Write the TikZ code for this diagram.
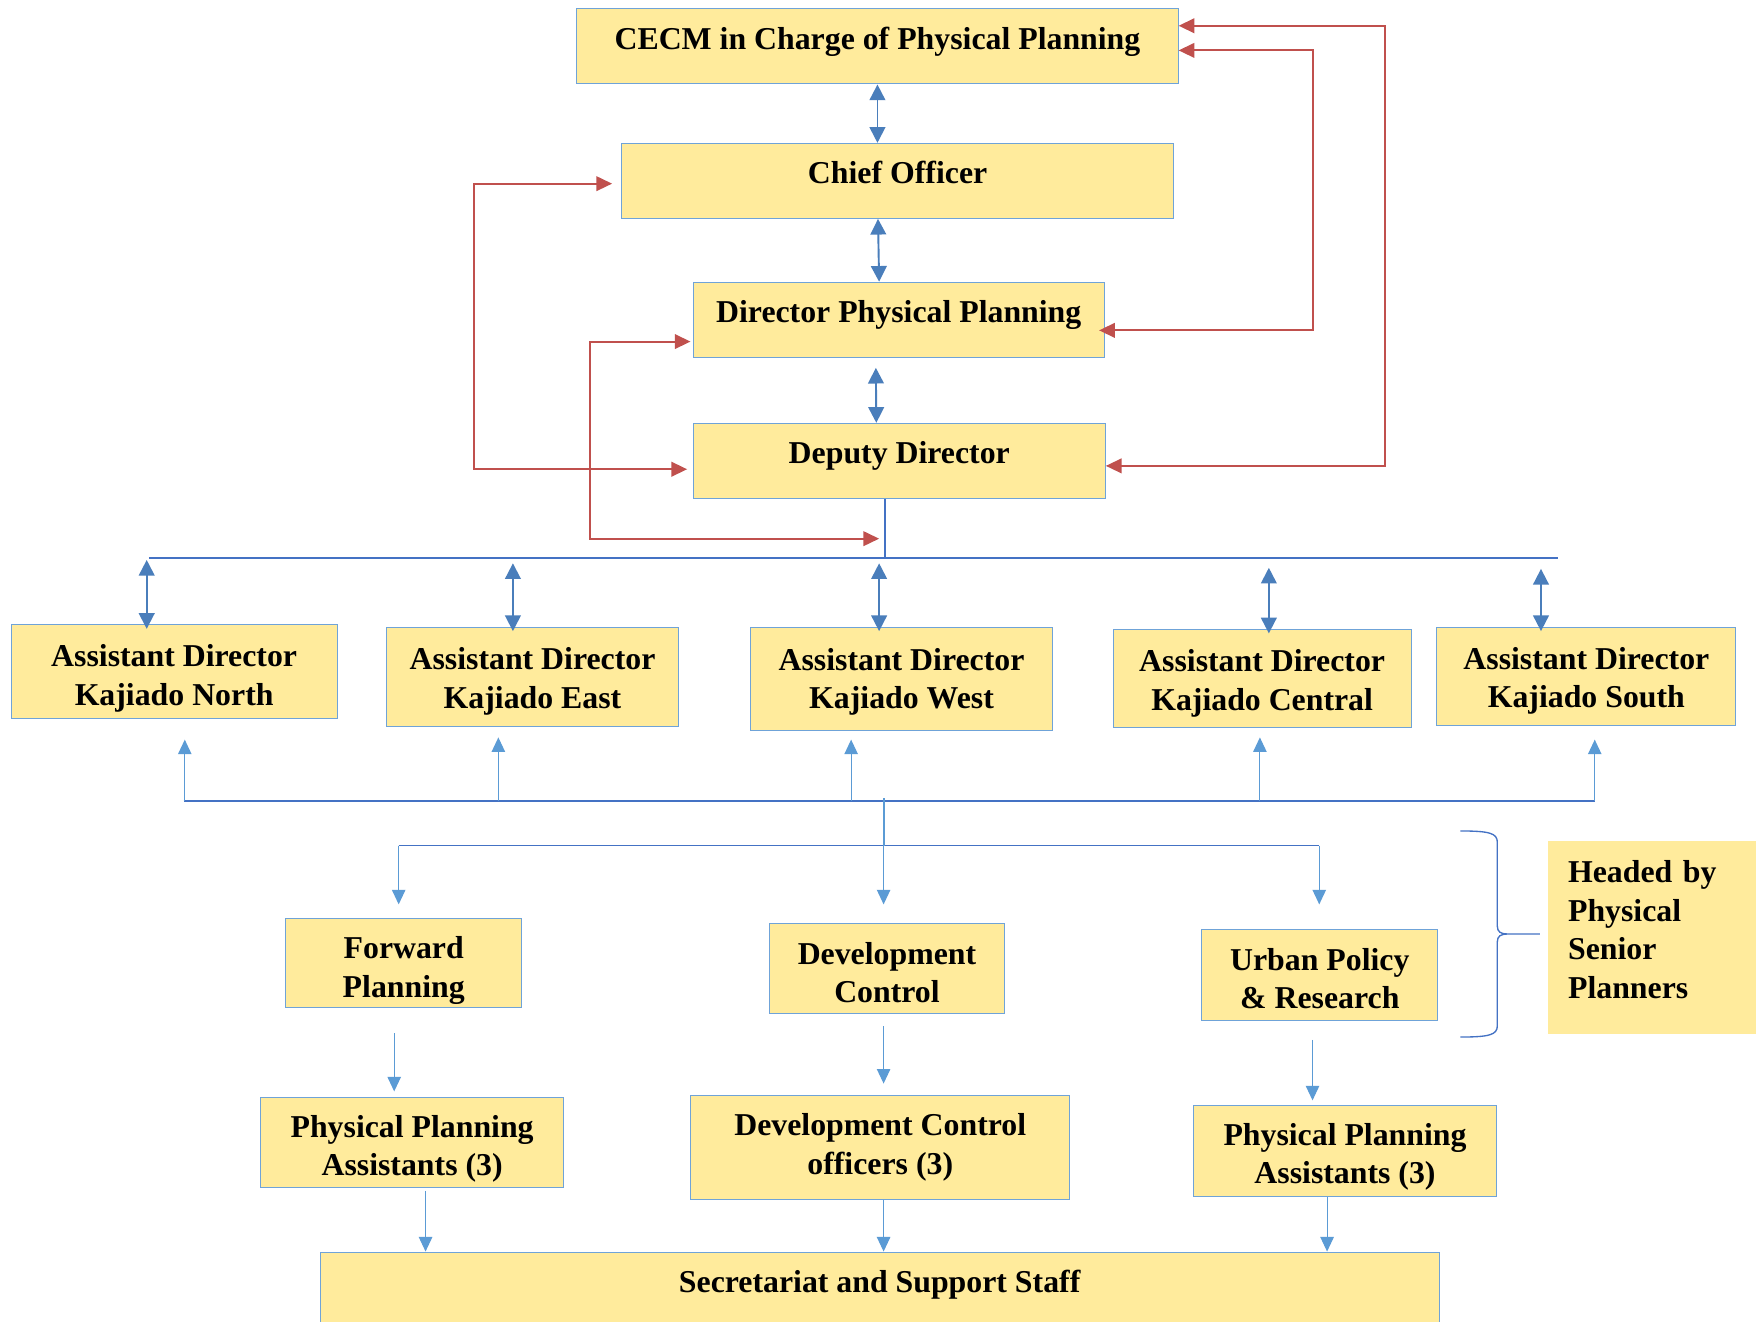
\documentclass[tikz,border=0pt]{standalone}
\usepackage{fontspec}
\setmainfont{Liberation Serif}
\usetikzlibrary{arrows.meta}
\definecolor{boxfill}{HTML}{FFEB9C}
\definecolor{boxline}{HTML}{6FA3D8}
\definecolor{linkblue}{HTML}{4A7EBB}
\definecolor{busblue}{HTML}{4472C4}
\definecolor{feedblue}{HTML}{5B9BD5}
\definecolor{linkred}{HTML}{C0504D}
\newcommand{\orgfont}{\fontsize{28.4}{34.5}\selectfont\bfseries}
\newcommand{\taildepth}{\rule[-14pt]{0pt}{14pt}}
\newcommand{\dropby}[1]{\rule{0pt}{\dimexpr 19.6pt+#1pt+#1pt\relax}}
\begin{document}
\begin{tikzpicture}[x=1pt, y=-1pt,
	orgbox/.style={draw=boxline, fill=boxfill, line width=0.9pt, inner sep=0pt, align=center, font=\orgfont},
	oneline/.style={text height=20pt, text depth=15pt},
	twoway/.style={draw=linkblue, line width=1.7pt, {Triangle[length=14pt,width=14pt]}-{Triangle[length=14pt,width=14pt]}},
	redway/.style={draw=linkred, line width=1.7pt, {Triangle[length=14pt,width=13pt]}-{Triangle[length=14pt,width=13pt]}},
	feed/.style={draw=feedblue, line width=1pt, -{Triangle[length=13pt,width=12pt]}},
	bus/.style={draw=busblue, line width=1.7pt}]
	\useasboundingbox (0,0) rectangle (1568,1180);
	\fill[white] (0,0) rectangle (1568,1180);
	\node[orgbox, oneline, minimum width=537pt, minimum height=67pt] (cecm) at (783.5,41.5) {CECM in Charge of Physical Planning};
	\node[orgbox, oneline, minimum width=493pt, minimum height=67pt] (chief) at (801.5,161.5) {Chief Officer};
	\node[orgbox, oneline, minimum width=367pt, minimum height=67pt] (director) at (802.5,285.5) {Director Physical Planning};
	\node[orgbox, oneline, minimum width=368pt, minimum height=67pt] (deputy) at (803,411.5) {Deputy Director};
	\node[orgbox, minimum width=291pt, minimum height=84pt] (adnorth) at (155.5,600) {\dropby{6}Assistant Director\\Kajiado North};
	\node[orgbox, minimum width=261pt, minimum height=89pt] (adeast) at (475.5,604.5) {\dropby{4}Assistant Director\\Kajiado East};
	\node[orgbox, minimum width=270pt, minimum height=92pt] (adwest) at (805,606) {\dropby{3}Assistant Director\\Kajiado West};
	\node[orgbox, minimum width=266pt, minimum height=88pt] (adcentral) at (1127,606) {\dropby{4}Assistant Director\\Kajiado Central};
	\node[orgbox, minimum width=267pt, minimum height=88pt] (adsouth) at (1416.5,604) {\dropby{4}Assistant Director\\Kajiado South};
	\node[orgbox, minimum width=211pt, minimum height=80pt] (forward) at (360.5,860) {\dropby{6.5}Forward\\Planning};
	\node[orgbox, minimum width=210pt, minimum height=80pt] (devcontrol) at (792,865) {\dropby{3.5}Development\\Control};
	\node[orgbox, minimum width=211pt, minimum height=81pt] (urban) at (1178.5,870.5) {\dropby{3.5}Urban Policy\\\& Research};
	\node[orgbox, minimum width=270pt, minimum height=80pt] (ppaleft) at (368,1020) {\dropby{6}Physical Planning\\Assistants (3)};
	\node[orgbox, minimum width=338pt, minimum height=93pt] (dco) at (786,1024.5) {Development Control\\officers (3)};
	\node[orgbox, minimum width=270pt, minimum height=81pt] (pparight) at (1201,1027.5) {\dropby{5.5}Physical Planning\\Assistants (3)};
	\node[orgbox, oneline, minimum width=999pt, minimum height=67pt] (secretariat) at (785.5,1151.5) {Secretariat and Support Staff};
	\node[fill=boxfill, anchor=west, inner xsep=18pt, inner ysep=0pt, minimum height=172pt, text width=180pt, align=left, font=\orgfont,
		execute at end node=\taildepth] (headed) at (1382,837) {Headed by\\Physical\\Senior\\Planners};

	\draw[twoway] (cecm.south) -- (cecm.south |- chief.north);
	\draw[twoway] ([xshift=-17.5pt]chief.south) -- ([xshift=-17.5pt]director.north);
	\draw[twoway, shorten <=9pt] ([xshift=-20.5pt]director.south) -- ([xshift=-20.5pt]deputy.north);

	\draw[redway] ([yshift=18.5pt]cecm.east) -- ++(184,0) |- ([yshift=-4.5pt]deputy.east);
	\draw[redway, shorten >=-5pt] ([yshift=-3.5pt]cecm.east) -- ++(120,0) |- ([yshift=-9.5pt]director.east);
	\draw[redway, shorten <=8pt, shorten >=5pt] ([yshift=-2.5pt]chief.west) -- ++(-131,0) |- ([yshift=-7.5pt]deputy.west);
	\coordinate (tap) at ([xshift=-13pt]deputy.south);
	\coordinate (redtap) at (785,481);
	\draw[redway, shorten <=2pt] ([yshift=-19.5pt]director.west) -- ++(-92,0) |- (redtap);

	\coordinate (busW) at (133,498);
	\coordinate (busE) at (1391,498);
	\draw[bus] (busW) -- (busE);
	\draw[bus] (tap) -- (tap |- busW);
	\foreach \x/\y/\n in {131/500/adnorth, 458/503/adeast, 785/503/adwest, 1133/507/adcentral, 1376/508/adsouth}
		{\coordinate (t) at (\x,\y); \draw[twoway, shorten >=-4pt] (t) -- (t |- \n.north);}

	\draw[bus] (164,715) -- (1424,715);
	\foreach \x/\s/\n in {165/18pt/adnorth, 445/9pt/adeast, 760/8pt/adwest, 1125/8pt/adcentral, 1424/12pt/adsouth}
		{\coordinate (b) at (\x,715); \draw[feed, shorten >=\s] (b) -- (b |- \n.south);}

	\coordinate (hub) at (789,713);
	\coordinate (secW) at (356,755);
	\coordinate (secE) at (1178,755);
	\draw[bus, line width=1.4pt] (secW) -- (secE);
	\draw[draw=feedblue, line width=1.7pt] (hub) -- (hub |- secW);
	\draw[feed, shorten >=17pt] (hub |- secW) -- (hub |- devcontrol.north);
	\draw[feed, shorten >=12pt] (secW) -- (secW |- forward.north);
	\draw[feed, shorten >=22pt] (secE) -- (secE |- urban.north);

	\path ([xshift=-8.5pt]forward.south) coordinate (f1)
		([xshift=-3pt]devcontrol.south) coordinate (f2)
		([xshift=-6.5pt]urban.south) coordinate (f3)
		([xshift=12pt]ppaleft.south) coordinate (s1)
		([xshift=3pt]dco.south) coordinate (s2)
		([xshift=-16pt]pparight.south) coordinate (s3);
	\draw[feed, shorten <=22pt, shorten >=5pt] (f1) -- (f1 |- ppaleft.north);
	\draw[feed, shorten <=11pt, shorten >=10pt] (f2) -- (f2 |- dco.north);
	\draw[feed, shorten <=17pt, shorten >=4pt] (f3) -- (f3 |- pparight.north);
	\draw[feed, shorten <=3pt] (s1) -- (s1 |- secretariat.north);
	\draw[feed] (s2) -- (s2 |- secretariat.north);
	\draw[feed] (s3) -- (s3 |- secretariat.north);

	\draw[draw=busblue, line width=1.2pt] (1304,742) .. controls (1330,742) and (1337,744) .. (1337,752) -- (1337,827)
		.. controls (1337,832) and (1340,834) .. (1346,834) -- (1375,834)
		(1346,834) .. controls (1340,834) and (1337,836) .. (1337,841) -- (1337,916)
		.. controls (1337,924) and (1330,926) .. (1304,926);
\end{tikzpicture}
\end{document}
